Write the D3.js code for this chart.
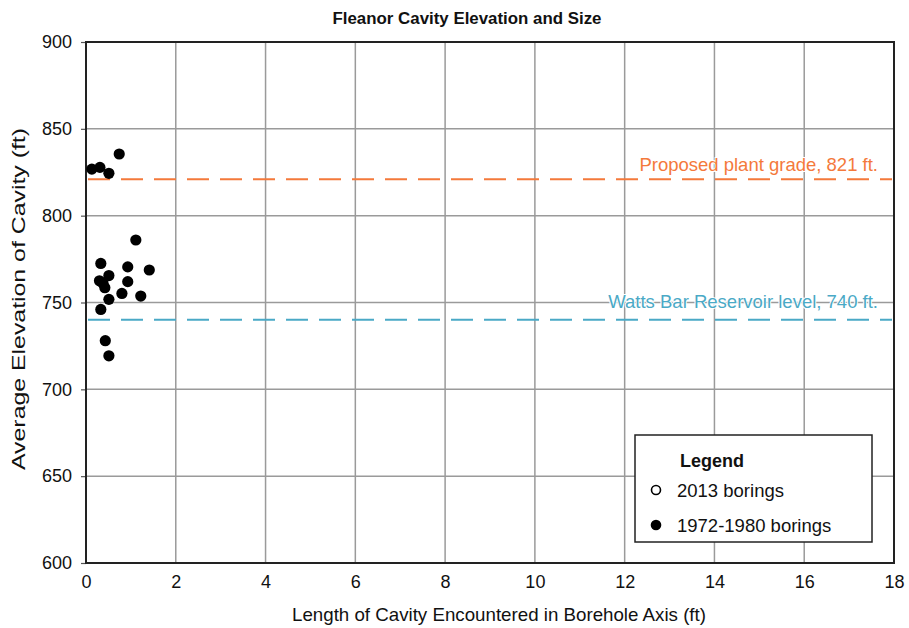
<!DOCTYPE html>
<html>
<head>
<meta charset="utf-8">
<script src="https://cdn.jsdelivr.net/npm/d3@7"></script>
<style>
  html, body { margin: 0; padding: 0; background: #fff; }
  svg { display: block; font-family: "Liberation Sans", Arial, sans-serif; }
</style>
</head>
<body>
<svg id="chart" width="909" height="628"></svg>
<script>
// Cavity observations, 1972-1980 borings: length along borehole axis (ft)
const cavityLength1972 = [0.13, 0.31, 0.51, 0.74,
  1.11, 0.33, 0.93, 1.41, 0.51, 0.30, 0.38, 0.42, 0.93, 0.80, 1.22, 0.51, 0.33, 0.43, 0.51];
// Matching average elevation of each cavity (ft)
const cavityElev1972 = [826.8, 827.8, 824.4, 835.5,
  786, 772.5, 770.5, 768.7, 765.5, 762.5, 761, 758.5, 762, 755.2, 753.7, 751.8, 746, 728, 719.3];
// 2013 borings (none plotted in range)
const cavityLength2013 = [];
const cavityElev2013 = [];

const xTicks = [0, 2, 4, 6, 8, 10, 12, 14, 16, 18];
const yTicks = [600, 650, 700, 750, 800, 850, 900];

const refNames = ["Proposed plant grade, 821 ft.", "Watts Bar Reservoir level, 740 ft."];
const refValues = [821, 740];
const refColors = ["#f4793b", "#4aa9c6"];

const legendLabels = ["2013 borings", "1972-1980 borings"];

const svg = d3.select("#chart");
const margin = { left: 86, right: 15, top: 42, bottom: 65 };
const W = 909, H = 628;

const x = d3.scaleLinear().domain([0, 18]).range([margin.left, W - margin.right]);
const y = d3.scaleLinear().domain([600, 900]).range([H - margin.bottom, margin.top]);

// gridlines
const grid = svg.append("g");
grid.selectAll("line.v").data(xTicks.slice(1, -1)).join("line")
  .attr("x1", d => x(d)).attr("x2", d => x(d))
  .attr("y1", y(900)).attr("y2", y(600))
  .attr("stroke", "#9a9a9a").attr("stroke-width", 1.5);
grid.selectAll("line.h").data(yTicks.slice(1, -1)).join("line")
  .attr("x1", x(0)).attr("x2", x(18))
  .attr("y1", d => y(d)).attr("y2", d => y(d))
  .attr("stroke", "#9a9a9a").attr("stroke-width", 1.5);

// axes
const xAxis = d3.axisBottom(x).tickValues(xTicks).tickSize(0).tickPadding(9).tickFormat(d3.format("d"));
const yAxis = d3.axisLeft(y).tickValues(yTicks).tickSize(5).tickPadding(9).tickFormat(d3.format("d"));

const gx = svg.append("g").attr("transform", `translate(0,${y(600)})`).call(xAxis);
const gy = svg.append("g").attr("transform", `translate(${x(0)},0)`).call(yAxis);
[gx, gy].forEach(g => {
  g.select(".domain").remove();
  g.selectAll("text").attr("font-size", 18).attr("fill", "#111")
    .attr("font-family", "Liberation Sans, Arial, sans-serif");
  g.selectAll("line").attr("stroke", "#555").attr("stroke-width", 1.2);
});
gx.selectAll("text").attr("dy", "0.9em");

// plot frame
svg.append("rect")
  .attr("x", x(0)).attr("y", y(900))
  .attr("width", x(18) - x(0)).attr("height", y(600) - y(900))
  .attr("fill", "none").attr("stroke", "#222").attr("stroke-width", 2);

// reference levels
const refs = svg.append("g");
refValues.forEach((v, i) => {
  refs.append("line")
    .attr("x1", x(0) + 2).attr("x2", x(18) - 2)
    .attr("y1", y(v)).attr("y2", y(v))
    .attr("stroke", refColors[i]).attr("stroke-width", 2)
    .attr("stroke-dasharray", "22,11");
  refs.append("text")
    .attr("x", x(18) - 16).attr("y", y(v) - (i === 0 ? 8 : 12))
    .attr("text-anchor", "end").attr("font-size", 18.5)
    .attr("fill", refColors[i])
    .attr("stroke", "#fff").attr("stroke-width", 2).attr("paint-order", "stroke")
    .text(refNames[i]);
});

// data points
svg.append("g").selectAll("circle")
  .data(d3.zip(cavityLength1972, cavityElev1972)).join("circle")
  .attr("cx", d => x(d[0])).attr("cy", d => y(d[1]))
  .attr("r", 5.6).attr("fill", "#000");
svg.append("g").selectAll("circle")
  .data(d3.zip(cavityLength2013, cavityElev2013)).join("circle")
  .attr("cx", d => x(d[0])).attr("cy", d => y(d[1]))
  .attr("r", 4.5).attr("fill", "#fff").attr("stroke", "#000").attr("stroke-width", 1.5);

// legend
const lg = svg.append("g");
lg.append("rect").attr("x", 635).attr("y", 435).attr("width", 237).attr("height", 107)
  .attr("fill", "#fff").attr("stroke", "#222").attr("stroke-width", 1.5);
lg.append("text").attr("x", 712).attr("y", 467).attr("text-anchor", "middle")
  .attr("font-size", 18).attr("font-weight", "bold").attr("fill", "#111").text("Legend");
lg.append("circle").attr("cx", 656).attr("cy", 490).attr("r", 4.5)
  .attr("fill", "#fff").attr("stroke", "#000").attr("stroke-width", 1.6);
lg.append("circle").attr("cx", 656).attr("cy", 525).attr("r", 5.3).attr("fill", "#000");
legendLabels.forEach((t, i) => {
  lg.append("text").attr("x", 677).attr("y", 497 + i * 35)
    .attr("font-size", 18.5).attr("fill", "#111").text(t);
});

// titles
svg.append("text").attr("x", 467).attr("y", 24).attr("text-anchor", "middle")
  .attr("font-size", 16).attr("font-weight", "bold").attr("fill", "#111")
  .attr("textLength", 269).attr("lengthAdjust", "spacingAndGlyphs")
  .text("Fleanor Cavity Elevation and Size");
svg.append("text").attr("x", 499).attr("y", 621).attr("text-anchor", "middle")
  .attr("font-size", 19).attr("fill", "#111")
  .attr("textLength", 414).attr("lengthAdjust", "spacingAndGlyphs")
  .text("Length of Cavity Encountered in Borehole Axis (ft)");
svg.append("text").attr("transform", "translate(25,299) rotate(-90)")
  .attr("text-anchor", "middle").attr("font-size", 18.5).attr("fill", "#111")
  .attr("textLength", 342).attr("lengthAdjust", "spacingAndGlyphs")
  .text("Average Elevation of Cavity (ft)");
</script>
</body>
</html>
